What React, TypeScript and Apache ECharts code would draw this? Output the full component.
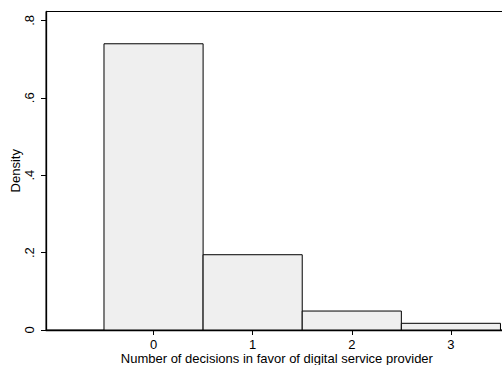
import React, { useEffect, useRef } from "react";
import * as echarts from "echarts";

const categories = [0, 1, 2, 3];
const density = [0.7396, 0.1945, 0.049, 0.0173];
const xTickValues = [0, 1, 2, 3];
const yTickValues = [0, 0.2, 0.4, 0.6, 0.8];
const yTickLabels = ["0", ".2", ".4", ".6", ".8"];

const FONT = "'Liberation Sans', Arial, Helvetica, sans-serif";
const FS = 13;

export default function App() {
  const ref = useRef<HTMLDivElement>(null);
  useEffect(() => {
    if (!ref.current) return;
    const chart = echarts.init(ref.current, undefined, { renderer: "svg" });
    const data = categories.map((c, i) => [c, density[i]]);
    chart.setOption({
      animation: false,
      backgroundColor: "#ffffff",
      textStyle: { fontFamily: FONT, color: "#000" },
      grid: {
        left: 46,
        right: 12.3,
        top: 11.5,
        bottom: 35,
        containLabel: false,
        outerBoundsMode: "none",
        show: true,
        borderColor: "#000",
        borderWidth: 1,
        backgroundColor: "transparent",
      },
      xAxis: {
        type: "value",
        min: -1.085,
        max: 3.573,
        name: "Number of decisions in favor of digital service provider",
        nameLocation: "middle",
        nameGap: 22,
        nameMoveOverlap: false,
        nameTextStyle: { fontFamily: FONT, fontSize: FS, color: "#000" },
        axisLine: { show: true, onZero: false, lineStyle: { color: "#000", width: 1.3 } },
        axisTick: { show: true, customValues: xTickValues, length: 5, lineStyle: { color: "#000", width: 1 } },
        axisLabel: {
          customValues: xTickValues,
          fontFamily: FONT,
          fontSize: FS,
          color: "#000",
          margin: 8,
          formatter: (v: number) => String(v),
        },
        splitLine: { show: false },
      },
      yAxis: {
        type: "value",
        position: "left",
        min: 0,
        max: 0.823,
        name: "Density",
        nameLocation: "middle",
        nameRotate: 90,
        nameGap: 24,
        nameMoveOverlap: false,
        nameTextStyle: { fontFamily: FONT, fontSize: FS, color: "#000" },
        axisLine: { show: true, onZero: false, lineStyle: { color: "#000", width: 1.3 } },
        axisTick: { show: true, customValues: yTickValues, length: 5, lineStyle: { color: "#000", width: 1 } },
        axisLabel: {
          customValues: yTickValues,
          fontFamily: FONT,
          fontSize: FS,
          color: "#000",
          rotate: 90,
          align: "center",
          verticalAlign: "bottom",
          margin: 10,
          formatter: (v: number) => {
            const i = yTickValues.findIndex((t) => Math.abs(t - v) < 1e-9);
            return i >= 0 ? yTickLabels[i] : "";
          },
        },
        splitLine: { show: false },
      },
      series: [
        {
          type: "custom",
          data,
          renderItem: (params: any, api: any) => {
            const x = api.value(0);
            const y = api.value(1);
            const p0 = api.coord([x - 0.5, 0]);
            const p1 = api.coord([x + 0.5, y]);
            return {
              type: "rect",
              shape: { x: p0[0], y: p1[1], width: p1[0] - p0[0], height: p0[1] - p1[1] },
              style: { fill: "#efefef", stroke: "#000", lineWidth: 1 },
            };
          },
        },
      ],
    });
    return () => chart.dispose();
  }, []);
  return (
    <div style={{ position: "fixed", left: 0, top: 0, width: 502, height: 365, overflow: "hidden", background: "#fff" }}>
      <div ref={ref} style={{ width: 520, height: 365 }} />
    </div>
  );
}
